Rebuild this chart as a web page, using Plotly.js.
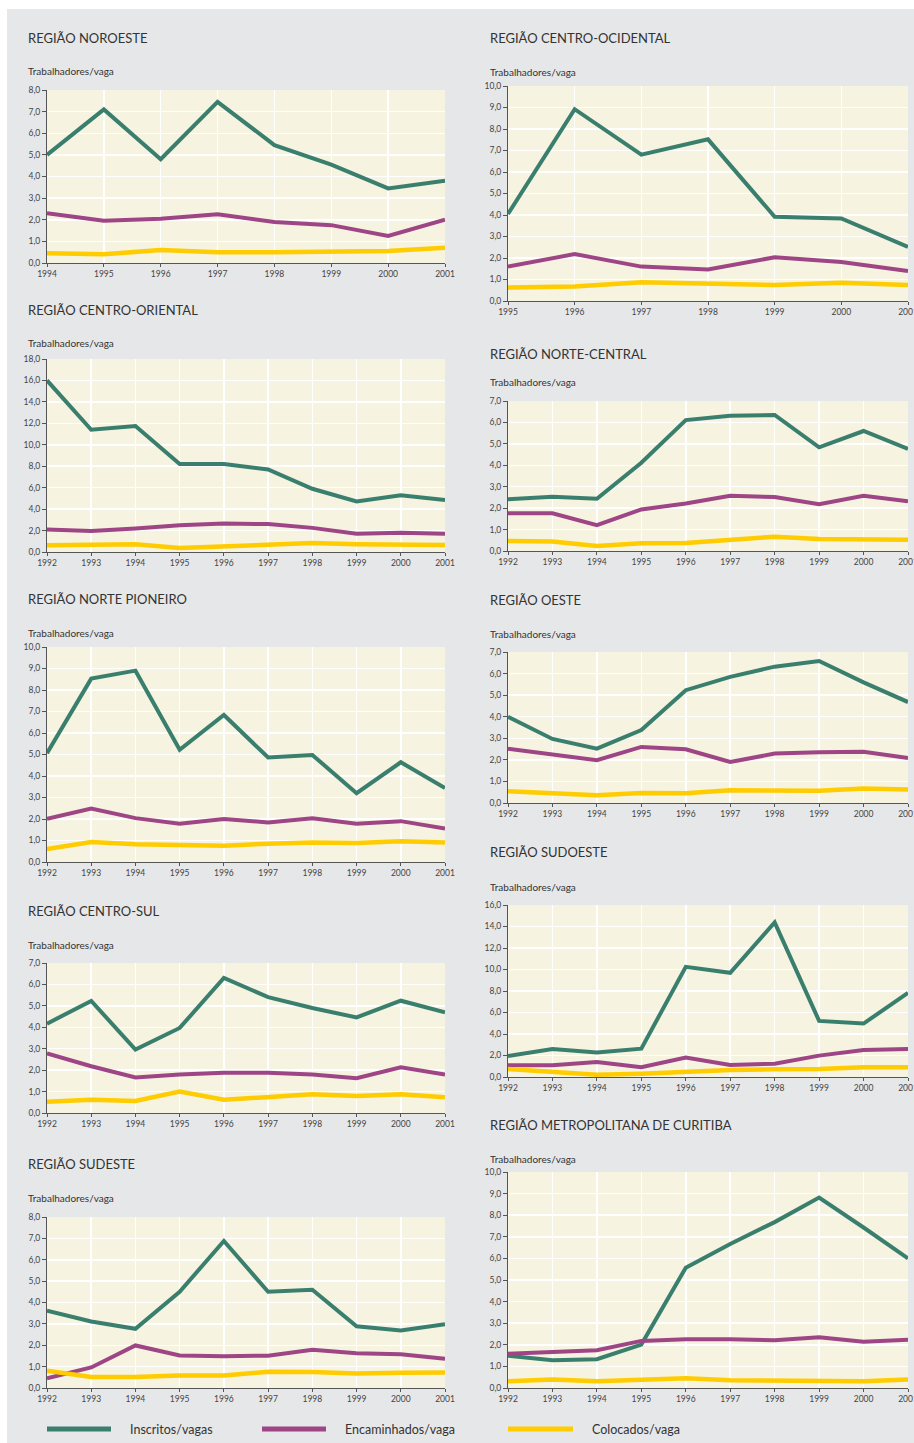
<!DOCTYPE html>
<html><head><meta charset="utf-8">
<script src="https://cdn.plot.ly/plotly-3.0.1.min.js"></script>
<style>html,body{margin:0;padding:0;background:#fff;}#chart{width:914px;height:1443px;}</style>
</head><body><div id="chart"></div>
<script>
// ---- data ----
const years9201 = [1992,1993,1994,1995,1996,1997,1998,1999,2000,2001];
const years9401 = [1994,1995,1996,1997,1998,1999,2000,2001];
const years9501 = [1995,1996,1997,1998,1999,2000,2001];

const seriesNames = ['Inscritos/vagas','Encaminhados/vaga','Colocados/vaga'];
const yLabel = 'Trabalhadores/vaga';

const noroesteInscritos    = [5.0,7.1,4.8,7.45,5.45,4.55,3.45,3.8];
const noroesteEncaminhados = [2.3,1.95,2.05,2.25,1.9,1.75,1.25,2.0];
const noroesteColocados    = [0.45,0.4,0.6,0.5,0.5,0.55,0.55,0.7];

const centroOcidInscritos    = [4.05,8.92,6.81,7.52,3.92,3.84,2.52];
const centroOcidEncaminhados = [1.6,2.18,1.6,1.47,2.03,1.81,1.39];
const centroOcidColocados    = [0.63,0.67,0.87,0.82,0.74,0.85,0.74];

const centroOrientInscritos    = [16.0,11.4,11.75,8.2,8.2,7.7,5.9,4.72,5.3,4.85];
const centroOrientEncaminhados = [2.1,1.95,2.2,2.5,2.65,2.6,2.25,1.7,1.8,1.7];
const centroOrientColocados    = [0.62,0.68,0.72,0.37,0.53,0.68,0.84,0.72,0.72,0.65];

const norteCentralInscritos    = [2.41,2.53,2.44,4.12,6.11,6.31,6.35,4.84,5.6,4.77];
const norteCentralEncaminhados = [1.76,1.76,1.21,1.94,2.22,2.58,2.52,2.18,2.58,2.32];
const norteCentralColocados    = [0.47,0.44,0.23,0.36,0.37,0.54,0.67,0.56,0.56,0.53];

const nortePioneiroInscritos    = [5.06,8.53,8.9,5.22,6.84,4.86,4.98,3.2,4.64,3.44];
const nortePioneiroEncaminhados = [2.01,2.49,2.04,1.78,2.0,1.84,2.03,1.78,1.9,1.56];
const nortePioneiroColocados    = [0.6,0.93,0.82,0.79,0.76,0.85,0.91,0.88,0.96,0.91];

const oesteInscritos    = [4.0,2.97,2.52,3.38,5.23,5.85,6.32,6.58,5.59,4.68];
const oesteEncaminhados = [2.52,2.26,1.98,2.6,2.49,1.9,2.29,2.35,2.38,2.08];
const oesteColocados    = [0.54,0.43,0.36,0.46,0.45,0.59,0.56,0.57,0.67,0.63];

const centroSulInscritos    = [4.17,5.23,2.96,3.97,6.3,5.41,4.9,4.46,5.24,4.7];
const centroSulEncaminhados = [2.78,2.18,1.66,1.8,1.88,1.88,1.8,1.62,2.13,1.79];
const centroSulColocados    = [0.53,0.62,0.56,1.0,0.62,0.76,0.87,0.79,0.87,0.73];

const sudoesteInscritos    = [1.96,2.61,2.27,2.64,10.25,9.69,14.38,5.22,4.97,7.83];
const sudoesteEncaminhados = [1.09,1.09,1.4,0.9,1.8,1.12,1.24,1.99,2.52,2.61];
const sudoesteColocados    = [0.75,0.5,0.22,0.31,0.53,0.65,0.71,0.75,0.9,0.9];

const sudesteInscritos    = [3.62,3.11,2.77,4.5,6.88,4.5,4.6,2.89,2.69,2.98];
const sudesteEncaminhados = [0.45,0.96,1.99,1.52,1.49,1.51,1.79,1.63,1.58,1.37];
const sudesteColocados    = [0.81,0.51,0.51,0.59,0.59,0.76,0.75,0.68,0.71,0.73];

const metropInscritos    = [1.49,1.28,1.33,2.01,5.57,6.67,7.68,8.82,7.43,6.0];
const metropEncaminhados = [1.59,1.67,1.75,2.18,2.26,2.26,2.21,2.35,2.14,2.23];
const metropColocados    = [0.31,0.39,0.31,0.39,0.45,0.36,0.34,0.31,0.31,0.39];

// ---- panel definitions (layout) ----
const W = 914, H = 1443;
const LX = [47, 445], RX = [508, 908];
const panels = [
  {title:'REGIÃO NOROESTE', x:years9401, s:[noroesteInscritos,noroesteEncaminhados,noroesteColocados], xp:LX, yp:[90,263], ymax:8, dt:1, ty:38, ly:71},
  {title:'REGIÃO CENTRO-OCIDENTAL', x:years9501, s:[centroOcidInscritos,centroOcidEncaminhados,centroOcidColocados], xp:RX, yp:[86,301], ymax:10, dt:1, ty:38, ly:72},
  {title:'REGIÃO CENTRO-ORIENTAL', x:years9201, s:[centroOrientInscritos,centroOrientEncaminhados,centroOrientColocados], xp:LX, yp:[359,552], ymax:18, dt:2, ty:310, ly:343},
  {title:'REGIÃO NORTE-CENTRAL', x:years9201, s:[norteCentralInscritos,norteCentralEncaminhados,norteCentralColocados], xp:RX, yp:[401,551], ymax:7, dt:1, ty:354, ly:382},
  {title:'REGIÃO NORTE PIONEIRO', x:years9201, s:[nortePioneiroInscritos,nortePioneiroEncaminhados,nortePioneiroColocados], xp:LX, yp:[647,862], ymax:10, dt:1, ty:599, ly:633},
  {title:'REGIÃO OESTE', x:years9201, s:[oesteInscritos,oesteEncaminhados,oesteColocados], xp:RX, yp:[652,803], ymax:7, dt:1, ty:600, ly:634},
  {title:'REGIÃO CENTRO-SUL', x:years9201, s:[centroSulInscritos,centroSulEncaminhados,centroSulColocados], xp:LX, yp:[963,1113], ymax:7, dt:1, ty:911, ly:945},
  {title:'REGIÃO SUDOESTE', x:years9201, s:[sudoesteInscritos,sudoesteEncaminhados,sudoesteColocados], xp:RX, yp:[905,1077], ymax:16, dt:2, ty:852, ly:887},
  {title:'REGIÃO SUDESTE', x:years9201, s:[sudesteInscritos,sudesteEncaminhados,sudesteColocados], xp:LX, yp:[1217,1388], ymax:8, dt:1, ty:1164, ly:1198},
  {title:'REGIÃO METROPOLITANA DE CURITIBA', x:years9201, s:[metropInscritos,metropEncaminhados,metropColocados], xp:RX, yp:[1172,1388], ymax:10, dt:1, ty:1125, ly:1159}
];

const colors = ['#3a7f6e','#9e4586','#ffcc00'];
const widths = [4, 4, 4.5];
const FONT = 'Lato, "Open Sans", sans-serif';
const fx = px => px / W;
const fy = py => 1 - py / H;

const data = [];
const layout = {
  width: W, height: H,
  margin: {l:0, r:0, t:0, b:0},
  paper_bgcolor: '#e6e7e9',
  plot_bgcolor: '#f6f3e0',
  separators: ',.',
  showlegend: false,
  font: {family: FONT, color: '#444'},
  annotations: [],
  shapes: [
    {type:'rect', xref:'paper', yref:'paper', x0:0, x1:1, y0:fy(9), y1:1, fillcolor:'#ffffff', line:{width:0}, layer:'above'},
    {type:'rect', xref:'paper', yref:'paper', x0:0, x1:fx(7), y0:0, y1:1, fillcolor:'#ffffff', line:{width:0}, layer:'above'}
  ]
};

panels.forEach((p, i) => {
  const n = i + 1;
  const xa = 'x' + (n === 1 ? '' : n), ya = 'y' + (n === 1 ? '' : n);
  p.s.forEach((vals, k) => {
    data.push({
      type:'scatter', mode:'lines', x:p.x, y:vals, xaxis:xa, yaxis:ya,
      name: seriesNames[k], line:{color:colors[k], width:widths[k]}, hoverinfo:'skip'
    });
  });
  const xkey = 'xaxis' + (n === 1 ? '' : n), ykey = 'yaxis' + (n === 1 ? '' : n);
  layout[xkey] = {
    domain:[fx(p.xp[0]), fx(p.xp[1])], anchor: ya,
    range:[p.x[0], p.x[p.x.length-1]], tickvals:p.x, ticktext:p.x.map(String),
    showgrid:true, gridcolor:'#ffffff', gridwidth:1.5, zeroline:false,
    showline:true, linecolor:'#555', linewidth:1,
    ticks:'outside', ticklen:3, tickcolor:'#555', ticklabeloverflow:'allow',
    tickfont:{size:8.5, color:'#444', family:FONT}, fixedrange:true
  };
  layout[ykey] = {
    domain:[fy(p.yp[1]), fy(p.yp[0])], anchor: xa,
    range:[0, p.ymax], dtick:p.dt, tick0:0, tickformat:'.1f',
    showgrid:true, gridcolor:'#ffffff', gridwidth:1.5, zeroline:false,
    showline:true, linecolor:'#555', linewidth:1,
    ticks:'outside', ticklen:4, tickcolor:'#555',
    tickfont:{size:8.5, color:'#444', family:FONT}, fixedrange:true
  };
  const tx = p.xp === LX ? 26 : 488;
  layout.annotations.push({
    xref:'paper', yref:'paper', x:fx(tx), y:fy(p.ty), xanchor:'left', yanchor:'middle',
    text:p.title, showarrow:false, font:{size:13, color:'#333', family:FONT}
  });
  layout.annotations.push({
    xref:'paper', yref:'paper', x:fx(tx), y:fy(p.ly), xanchor:'left', yanchor:'middle',
    text:yLabel, showarrow:false, font:{size:10, color:'#333', family:FONT}
  });
});

// legend drawn at the bottom
const legendPos = [[47,111,128],[262,326,343],[508,573,590]];
legendPos.forEach((lp, k) => {
  layout.shapes.push({type:'line', xref:'paper', yref:'paper', x0:fx(lp[0]), x1:fx(lp[1]), y0:fy(1429), y1:fy(1429),
    line:{color:colors[k], width:5}});
  layout.annotations.push({xref:'paper', yref:'paper', x:fx(lp[2]), y:fy(1429), xanchor:'left', yanchor:'middle',
    text:seriesNames[k], showarrow:false, font:{size:12.5, color:'#333', family:FONT}});
});

Plotly.newPlot('chart', data, layout, {staticPlot:true, displayModeBar:false});
</script></body></html>
